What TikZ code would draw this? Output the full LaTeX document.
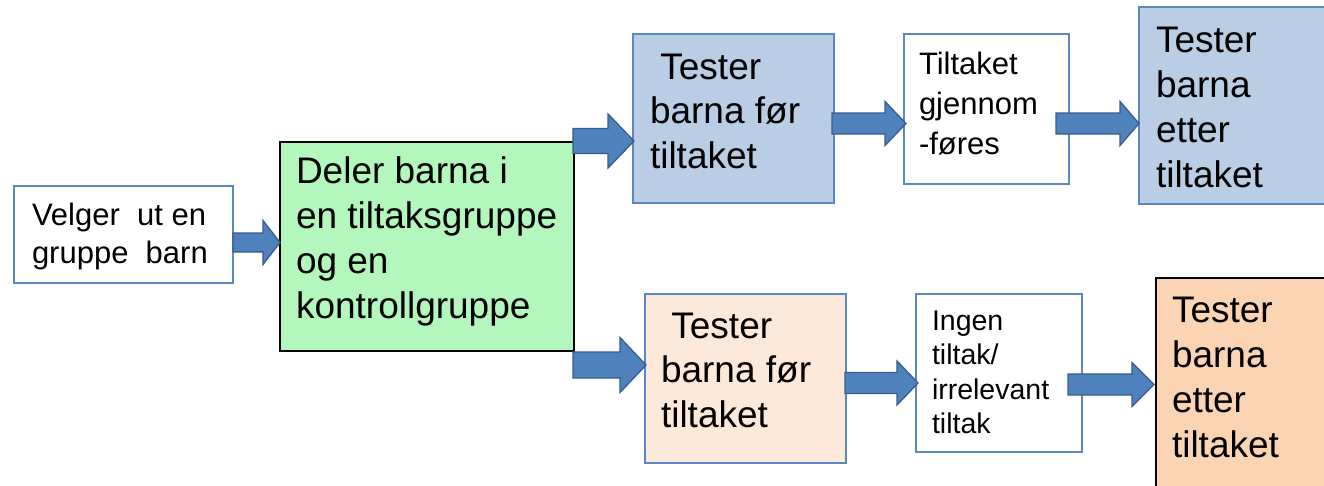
\documentclass[tikz,border=0pt]{standalone}
\usepackage{fontspec}
\setmainfont{Liberation Sans}
\usetikzlibrary{calc}
\definecolor{bordblue}{RGB}{91,135,197}
\definecolor{fillblue}{RGB}{185,205,229}
\definecolor{fillgreen}{RGB}{180,247,188}
\definecolor{fillpeachA}{RGB}{253,233,217}
\definecolor{fillpeachB}{RGB}{251,212,180}
\definecolor{arrfill}{RGB}{79,129,189}
\definecolor{arrline}{RGB}{56,93,138}
% #1 width, #2 height, #3 left pad, #4 first baseline, #5 baselineskip, #6 font size, #7 lines
\newcommand\boxtext[7]{\parbox[t][#2][t]{#1}{\fontsize{#6}{#5}\selectfont\parindent=0pt\leftskip=#3\relax\rightskip=0pt plus 1fil\relax\rule{0pt}{#4}#7\par}}
% #1 start, #2 tip, #3 shaft half height, #4 head half height, #5 head length
\newcommand\blockarrow[5]{\path[blockarr] let \p1=#1, \p2=#2 in
  (\x1,{\y2+#3pt}) -- ({\x2-#5pt},{\y2+#3pt}) -- ({\x2-#5pt},{\y2+#4pt}) -- (\x2,\y2)
  -- ({\x2-#5pt},{\y2-#4pt}) -- ({\x2-#5pt},{\y2-#3pt}) -- (\x1,{\y2-#3pt}) -- cycle;}
\begin{document}
\begin{tikzpicture}[x=1pt,y=-1pt,
  box/.style={draw=bordblue, line width=1.4pt, inner sep=0pt, outer sep=0pt, anchor=north west},
  blockarr/.style={fill=arrfill, draw=arrline, line width=1.3pt, line join=miter}]
\useasboundingbox (0,0) rectangle (1324,485);
\clip (0,0) rectangle (1324,485);
\fill[white] (0,0) rectangle (1324,485);
\node[box, fill=white] (velger) at (14,186)
  {\boxtext{219pt}{97pt}{18pt}{39pt}{38pt}{31pt}{Velger~ ut en\\gruppe~ barn}};
\node[box, draw=black, fill=fillgreen] (green) at (280,142)
  {\boxtext{294pt}{209pt}{16pt}{41pt}{45pt}{37pt}{Deler barna i\\en tiltaksgruppe\\og en\\kontrollgruppe}};
\node[box, fill=fillblue] (blue1) at (633,34)
  {\boxtext{201pt}{169pt}{17pt}{45pt}{44.5pt}{37pt}{\hspace*{0.28em}Tester\\barna før\\tiltaket}};
\node[box, fill=fillpeachA] (peach1) at (645,294)
  {\boxtext{201pt}{169pt}{16pt}{44pt}{44.5pt}{37pt}{\hspace*{0.28em}Tester\\barna før\\tiltaket}};
\node[box, fill=white] (tilt) at (904,34)
  {\boxtext{165pt}{150pt}{15pt}{40pt}{40pt}{31pt}{Tiltaket\\gjennom\\-føres}};
\node[box, fill=fillblue] (blue2) at (1139,7)
  {\boxtext{200pt}{197pt}{17pt}{45pt}{45pt}{37pt}{Tester\\barna\\etter\\tiltaket}};
\node[box, fill=white] (ingen) at (916,294)
  {\boxtext{166pt}{158pt}{16pt}{36pt}{34.5pt}{28.5pt}{Ingen\\tiltak/\\irrelevant\\tiltak}};
\node[box, draw=black, fill=fillpeachB] (peach2) at (1156,278)
  {\boxtext{200pt}{220pt}{16pt}{44pt}{45pt}{37pt}{Tester\\barna\\etter\\tiltaket}};
\blockarrow{(velger.east)}{($(green.west)+(0,-4)$)}{9.5}{22}{17}
\blockarrow{($(green.east)+(-1,0)$)}{($(blue1.west)+(1,22.5)$)}{12.5}{27}{26}
\blockarrow{($(green.east)+(-1,0)$)}{($(peach1.west)+(1,-13.5)$)}{13}{27.5}{26}
\blockarrow{($(blue1.east)+(-2,0)$)}{($(tilt.west)+(2,14.5)$)}{10.5}{22}{21}
\blockarrow{($(tilt.east)+(-13,0)$)}{($(blue2.west)+(0,18)$)}{10.5}{22}{19}
\blockarrow{($(peach1.east)+(-1,0)$)}{($(ingen.west)+(2,10)$)}{10.5}{22}{21}
\blockarrow{($(ingen.east)+(-14,0)$)}{($(peach2.west)+(-2,-3.5)$)}{10.5}{22}{22}
\end{tikzpicture}
\end{document}
